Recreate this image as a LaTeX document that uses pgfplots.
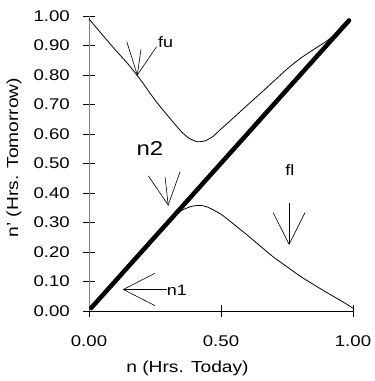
\documentclass[border=0pt]{standalone}
\usepackage{fontspec}
\setmainfont[FakeStretch=1.2]{Liberation Sans}
\usepackage{pgfplots}
\pgfplotsset{compat=1.18}
\begin{document}
\begin{tikzpicture}
\begin{axis}[
  scale only axis,
  width=264pt, height=295pt,
  xmin=0, xmax=1, ymin=0, ymax=1,
  enlargelimits=false,
  clip=false,
  axis lines=left,
  axis line style={-},
  x axis line style={black, line width=0.8pt},
  y axis line style={black!50, line width=0.8pt},
  xtick={0,0.5,1},
  ytick={0,0.1,...,1.0},
  xtick align=center, ytick align=center,
  major tick length=12pt,
  tick style={black, line width=0.6pt},
  /pgf/number format/assume math mode=true,
  /pgf/number format/.cd, fixed, fixed zerofill, precision=2,
  /pgfplots/.cd,
  ticklabel style={font=\fontsize{15.5}{18}\selectfont},
  yticklabel style={anchor=east, inner sep=0pt, xshift=-13pt},
  xticklabel style={anchor=center, inner sep=0pt, yshift=-24pt},
  xlabel={n (Hrs. Today)},
  ylabel={n' (Hrs. Tomorrow)},
  label style={font=\fontsize{16}{19}\selectfont},
  xlabel style={at={(axis description cs:0.373,-0.193)}, anchor=center, inner sep=0pt},
  ylabel style={at={(axis description cs:-0.284,0.52)}, anchor=center, inner sep=0pt},
]
\coordinate (O) at (axis cs:0,0);
% fu
\addplot[black, line width=0.8pt, smooth, tension=0.4] coordinates {
(0,0.99) (0.05,0.937) (0.10,0.885) (0.15,0.835) (0.20,0.778) (0.25,0.715)
(0.30,0.66) (0.35,0.608) (0.38,0.585) (0.41,0.574) (0.44,0.577) (0.47,0.592)
(0.50,0.617) (0.55,0.657) (0.60,0.698) (0.65,0.738) (0.70,0.779) (0.75,0.820)
(0.80,0.856) (0.85,0.886) (0.90,0.915) (0.95,0.950) (0.985,0.985)
};
% fl
\addplot[black, line width=0.8pt, smooth, tension=0.4] coordinates {
(0.33,0.33) (0.36,0.345) (0.39,0.355) (0.42,0.358) (0.45,0.352) (0.50,0.328)
(0.55,0.293) (0.60,0.257) (0.65,0.219) (0.70,0.182) (0.75,0.150) (0.80,0.118)
(0.85,0.090) (0.90,0.063) (0.95,0.037) (1.0,0.01)
};
% diagonal
\addplot[black, line width=4.5pt, line cap=round] coordinates {(0.008,0.01) (0.985,0.985)};
% annotations
\draw[black, line width=0.6pt] (axis cs:0.143,0.913) -- (axis cs:0.183,0.80) -- (axis cs:0.197,0.887);
\draw[black, line width=0.6pt] (axis cs:0.183,0.80) -- (axis cs:0.256,0.896);
\node[font=\fontsize{15}{18}\selectfont, inner sep=0pt] at (axis cs:0.29,0.91) {fu};
\draw[black, line width=0.6pt] (axis cs:0.225,0.458) -- (axis cs:0.30,0.359) -- (axis cs:0.345,0.472);
\draw[black, line width=0.6pt] (axis cs:0.30,0.359) -- (axis cs:0.288,0.455);
\node[font=\fontsize{20}{24}\selectfont, inner sep=0pt] at (axis cs:0.231,0.551) {n2};
\draw[black, line width=0.6pt] (axis cs:0.698,0.333) -- (axis cs:0.758,0.226) -- (axis cs:0.818,0.333);
\draw[black, line width=0.6pt] (axis cs:0.758,0.226) -- (axis cs:0.758,0.365);
\node[font=\fontsize{15}{18}\selectfont, inner sep=0pt] at (axis cs:0.761,0.478) {fl};
\draw[black, line width=0.6pt] (axis cs:0.25,0.128) -- (axis cs:0.13,0.073) -- (axis cs:0.25,0.018);
\draw[black, line width=0.6pt] (axis cs:0.13,0.073) -- (axis cs:0.294,0.073);
\node[font=\fontsize{15}{18}\selectfont, inner sep=0pt, anchor=west] at (axis cs:0.294,0.071) {n1};
\end{axis}
\pgfresetboundingbox
\path[use as bounding box] ([shift={(-89pt,-70pt)}]O) rectangle ([shift={(286pt,311pt)}]O);
\end{tikzpicture}
\end{document}
